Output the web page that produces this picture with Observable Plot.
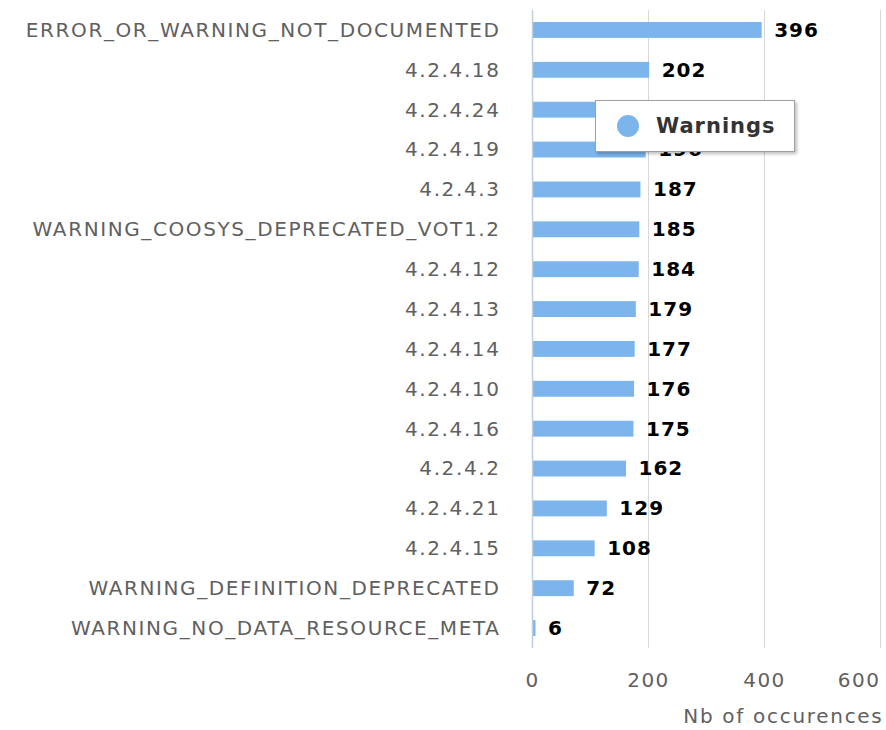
<!DOCTYPE html>
<html>
<head>
<meta charset="utf-8">
<script src="https://cdn.jsdelivr.net/npm/d3@7"></script>
<script src="https://cdn.jsdelivr.net/npm/@observablehq/plot@0.6"></script>
<style>
  html, body { margin: 0; padding: 0; background: #fff; }
  #wrap { position: relative; width: 886px; height: 730px; }
  #legend {
    position: absolute; left: 595px; top: 100px; width: 200px; height: 52px;
    box-sizing: border-box; background: #fff; border: 1px solid #a0a0a0;
    box-shadow: 2px 2px 3px rgba(0,0,0,0.25);
    font-family: "DejaVu Sans", sans-serif; font-size: 21px; font-weight: bold; color: #333;
    letter-spacing: 1px;
    display: flex; align-items: center;
  }
  #legend .dot { width: 22px; height: 22px; border-radius: 50%; background: #7cb5ec; margin-left: 21px; margin-right: 17px; }
  g[aria-label="y-axis tick label"] text { letter-spacing: 1.6px; }
  g[aria-label="x-axis tick label"] text { letter-spacing: 1.5px; }
  g[aria-label="x-axis label"] text { letter-spacing: 1.7px; }
  g[aria-label="text"] text { letter-spacing: 1px; }
</style>
</head>
<body>
<div id="wrap"></div>
<script>
const categories = [
  "ERROR_OR_WARNING_NOT_DOCUMENTED", "4.2.4.18", "4.2.4.24", "4.2.4.19", "4.2.4.3",
  "WARNING_COOSYS_DEPRECATED_VOT1.2", "4.2.4.12", "4.2.4.13", "4.2.4.14", "4.2.4.10",
  "4.2.4.16", "4.2.4.2", "4.2.4.21", "4.2.4.15", "WARNING_DEFINITION_DEPRECATED",
  "WARNING_NO_DATA_RESOURCE_META"
];
const warnings = [396, 202, 198, 196, 187, 185, 184, 179, 177, 176, 175, 162, 129, 108, 72, 6];
const xTicks = [0, 200, 400, 600];
const seriesName = "Warnings";
const xTitle = "Nb of occurences";

const data = categories.map((c, i) => ({category: c, value: warnings[i]}));
const innerTicks = xTicks.slice(0, -1);
const lastTick = xTicks.slice(-1);

const chart = Plot.plot({
  width: 886,
  height: 730,
  marginLeft: 532,
  marginRight: 6,
  marginTop: 10,
  marginBottom: 82,
  style: {fontFamily: "DejaVu Sans, sans-serif", fontSize: "20px", background: "#fff"},
  x: {domain: [0, 600]},
  y: {domain: categories, padding: 0, round: false},
  marks: [
    Plot.gridX(xTicks, {stroke: "#d8d8d8", strokeOpacity: 1}),
    Plot.barX(data, {y: "category", x: "value", fill: "#7cb5ec", insetTop: 12, insetBottom: 12}),
    Plot.ruleX([0], {stroke: "#c0d0e0", strokeWidth: 1.5}),
    Plot.text(data, {y: "category", x: "value", text: d => String(d.value), textAnchor: "start", dx: 12, fill: "#000", fontWeight: "bold", fontSize: 20}),
    Plot.axisY({tickSize: 0, tickPadding: 32, fill: "#606060", fontSize: 20, label: null}),
    Plot.axisX(innerTicks, {tickSize: 0, tickPadding: 24, fill: "#606060", fontSize: 20, label: xTitle, labelAnchor: "right", labelArrow: "none", labelOffset: 74}),
    Plot.axisX(lastTick, {tickSize: 0, tickPadding: 24, fill: "#606060", fontSize: 20, textAnchor: "end", label: null})
  ]
});
document.getElementById("wrap").appendChild(chart);

const legend = document.createElement("div");
legend.id = "legend";
legend.innerHTML = '<span class="dot"></span><span></span>';
legend.lastChild.textContent = seriesName;
document.getElementById("wrap").appendChild(legend);
</script>
</body>
</html>
